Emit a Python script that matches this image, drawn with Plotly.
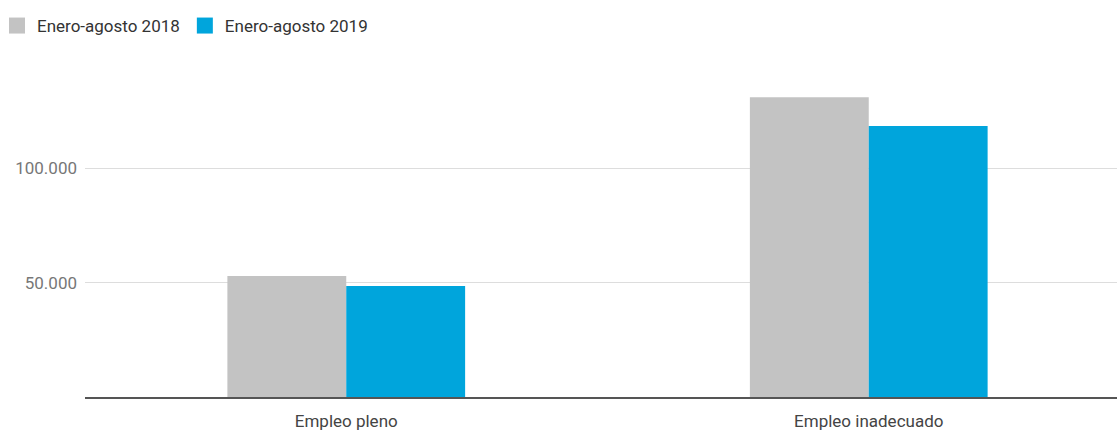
import plotly.graph_objects as go

categories = ["Empleo pleno", "Empleo inadecuado"]
series_names = ["Enero-agosto 2018", "Enero-agosto 2019"]
values_2018 = [52900, 131000]
values_2019 = [48500, 118400]
y_tick_vals = [50000, 100000]
y_tick_text = ["50.000", "100.000"]

colors = ["#c3c3c3", "#00a5dc"]

fig = go.Figure()
for name, vals, col in zip(series_names, [values_2018, values_2019], colors):
    fig.add_trace(go.Bar(x=categories, y=vals, name=name, marker_color=col,
                         marker_line_width=0, showlegend=False, legendgroup=name))
# legend entries with larger square symbols
for name, col in zip(series_names, colors):
    fig.add_trace(go.Scatter(x=[None], y=[None], mode="markers", name=name,
                             legendgroup=name,
                             marker=dict(symbol="square", size=18, color=col)))

W, H = 1117, 431
L, T, B = 85, 60, 34
plot_h = H - T - B
px_per_50k = 114.4
ymax = plot_h / px_per_50k * 50000
slot_px = 522.5
xmax = -0.5 + (W - L) / slot_px

fig.update_layout(
    width=W, height=H,
    margin=dict(l=L, r=0, t=T, b=B, autoexpand=False),
    paper_bgcolor="white", plot_bgcolor="white",
    barmode="group", bargap=0.545, bargroupgap=0,
    separators=",.",
    font=dict(family="Roboto", size=17, color="#333333"),
    legend=dict(orientation="h", x=-(L + 3) / (W - L), xanchor="left",
                y=1 + (T - 8) / plot_h, yanchor="top",
                font=dict(size=17, color="#333333"), traceorder="normal",
                itemwidth=30, tracegroupgap=0),
    xaxis=dict(range=[-0.5, xmax], showline=True, linecolor="#555555", linewidth=1.5,
               ticks="", showgrid=False, ticklabelstandoff=8,
               tickfont=dict(size=17, color="#444444")),
    yaxis=dict(range=[0, ymax], tickvals=y_tick_vals, ticktext=y_tick_text,
               showgrid=True, gridcolor="#dddddd", gridwidth=1, zeroline=False,
               ticks="", ticklabelstandoff=7,
               tickfont=dict(size=17, color="#777777")),
)

fig.write_html("out.html")
